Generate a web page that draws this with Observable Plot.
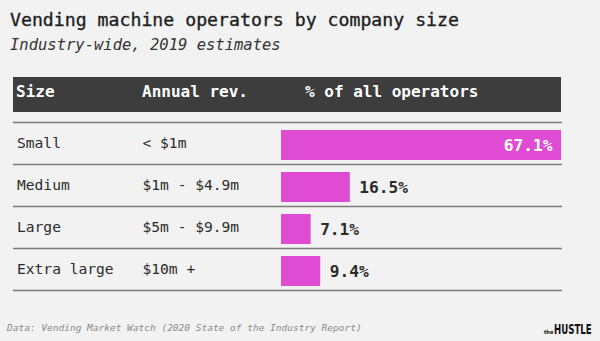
<!DOCTYPE html>
<html>
<head>
<meta charset="utf-8">
<script src="https://cdn.jsdelivr.net/npm/d3@7"></script>
<script src="https://cdn.jsdelivr.net/npm/@observablehq/plot@0.6"></script>
<style>
  html, body { margin: 0; padding: 0; background: #f2f2f2; }
  body { width: 600px; height: 341px; position: relative; overflow: hidden; font-family: "DejaVu Sans Mono", "Liberation Mono", monospace; }
  .abs { position: absolute; white-space: nowrap; line-height: 1; }
  #title { left: 10px; top: 11.3px; font-size: 18.2px; color: #1e1e1e; -webkit-text-stroke: 0.35px #1e1e1e; }
  #subtitle { left: 10px; top: 38px; font-size: 15.5px; font-style: italic; color: #333; }
  #header { position: absolute; left: 13px; top: 77px; width: 548px; height: 35px; background: #3d3d3d; }
  #header span { position: absolute; top: 6.8px; font-size: 16px; font-weight: bold; color: #fff; line-height: 1; white-space: nowrap; }
  #chart { position: absolute; left: 0; top: 70px; }
  #source { left: 7px; top: 323px; font-size: 9.5px; font-style: italic; color: #8a8a8a; }
  #logo { position: absolute; left: 544px; top: 321px; line-height: 1; white-space: nowrap; color: #111; font-weight: bold; font-family: "DejaVu Sans Condensed", "DejaVu Sans", sans-serif; }
  #logo .the { font-size: 5.5px; vertical-align: baseline; margin-right: 1px; }
  #logo .h { display: inline-block; font-size: 14.5px; transform: scaleX(0.66); transform-origin: 0 50%; width: 39px; }
</style>
</head>
<body>
<div id="title" class="abs">Vending machine operators by company size</div>
<div id="subtitle" class="abs">Industry-wide, 2019 estimates</div>
<div id="header"></div>
<div id="chart"></div>
<div id="source" class="abs">Data: Vending Market Watch (2020 State of the Industry Report)</div>
<div id="logo"><span class="the">the</span><span class="h">HUSTLE</span></div>
<script>
const headers = ["Size", "Annual rev.", "% of all operators"];
const sizes = ["Small", "Medium", "Large", "Extra large"];
const revenues = ["< $1m", "$1m - $4.9m", "$5m - $9.9m", "$10m + "];
const shares = [67.1, 16.5, 7.1, 9.4];

const headerOffsets = [3, 129, 292];
const hdr = document.getElementById("header");
headers.forEach((h, i) => {
  const s = document.createElement("span");
  s.textContent = h;
  s.style.left = headerOffsets[i] + "px";
  hdr.appendChild(s);
});

const rows = sizes.map((s, i) => ({size: s, rev: revenues[i], share: shares[i]}));
const maxShare = d3.max(shares);
const inside = d => d.share > 40;

const fontMono = "DejaVu Sans Mono, Liberation Mono, monospace";
const chart = Plot.plot({
  width: 600,
  height: 230,
  marginLeft: 13,
  marginRight: 38,
  marginTop: 0,
  marginBottom: 0,
  style: {background: "transparent", fontFamily: fontMono},
  x: {domain: [0, maxShare], range: [281, 561], axis: null},
  y: {type: "band", domain: sizes, range: [52, 220], padding: 0, axis: null},
  marks: [
    Plot.ruleY(rows, {y: "size", dy: 21, stroke: "#7c7c7c", strokeWidth: 1.3}),
    Plot.ruleY([rows[0]], {y: "size", dy: -21, stroke: "#7c7c7c", strokeWidth: 1.3}),
    Plot.barX(rows, {y: "size", x1: 0, x2: "share", fill: "#df4bd3", insetTop: 8, insetBottom: 4}),
    Plot.text(rows, {y: "size", text: "size", frameAnchor: "left", textAnchor: "start", dx: 3.5, fontSize: 14.6, fill: "#2b2b2b"}),
    Plot.text(rows, {y: "size", text: "rev", frameAnchor: "left", textAnchor: "start", dx: 129, fontSize: 14.6, fill: "#2b2b2b"}),
    Plot.text(rows.filter(inside), {y: "size", x: "share", text: d => d.share.toFixed(1) + "%", textAnchor: "end", dx: -9, dy: 2.5, fontSize: 16.2, fontWeight: "bold", fill: "#ffffff"}),
    Plot.text(rows.filter(d => !inside(d)), {y: "size", x: "share", text: d => d.share.toFixed(1) + "%", textAnchor: "start", dx: 9, dy: 2.5, fontSize: 16.2, fontWeight: "bold", fill: "#2b2b2b"})
  ]
});
document.getElementById("chart").appendChild(chart);
</script>
</body>
</html>
